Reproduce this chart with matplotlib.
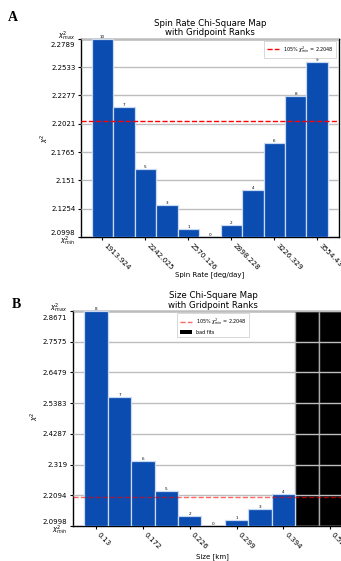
import numpy as np
import matplotlib
matplotlib.use("Agg")
import matplotlib.pyplot as plt
from matplotlib.lines import Line2D
from matplotlib.patches import Patch

# ---------------- data ----------------
spin_chi = [2.2789, 2.2175, 2.1609, 2.1290, 2.1070, 2.0998, 2.1109, 2.1423, 2.1847, 2.2274, 2.2576]
spin_rank = [10, 7, 5, 3, 1, 0, 2, 4, 6, 8, 9]
spin_ticklabels = ['1913.924', '2242.025', '2570.126', '2898.228', '3226.329', '3554.43']
spin_chi_min, spin_chi_max = 2.0998, 2.2789
spin_ylabels = ['2.0998', '2.1254', '2.151', '2.1765', '2.2021', '2.2277', '2.2533', '2.2789']

size_chi = [2.8671, 2.5591, 2.3308, 2.2237, 2.1355, 2.0998, 2.1201, 2.1616, 2.2129]
size_rank = [8, 7, 6, 5, 2, 0, 1, 3, 4]
size_bad = [9, 10]
size_ticklabels = ['0.13', '0.172', '0.226', '0.299', '0.394', '0.52']
size_chi_min, size_chi_max = 2.0998, 2.8671
size_ylabels = ['2.0998', '2.2094', '2.319', '2.4287', '2.5383', '2.6479', '2.7575', '2.8671']

threshold = 2.2048

BLUE = '#0a4cb0'
EDGE = '#c9d9f2'

W, H = 341, 561
fig = plt.figure(figsize=(W / 100, H / 100), dpi=100)


def panel(rect, chis, ranks, tlabels, cmin, cmax, ylabels, title, xlabel, red_alpha,
          xlab_pos, ylab_pos, bad=None, legend_loc='upper right'):
    ax = fig.add_axes(rect)
    n = len(chis) + (len(bad) if bad else 0)
    x = np.arange(len(chis))
    ax.set_axisbelow(False)
    ax.yaxis.grid(True, color='#bdbdbd', linewidth=1.0, zorder=2)
    if bad:
        ax.bar(bad, [cmax - cmin] * len(bad), bottom=cmin, width=1.0, color='black',
               edgecolor='#a8a8a8', linewidth=1.0, zorder=1)
    ax.bar(x, np.array(chis) - cmin, bottom=cmin, width=1.0, color=BLUE,
           edgecolor=EDGE, linewidth=0.9, zorder=3)
    for xi, c, r in zip(x, chis, ranks):
        ax.text(xi, c, str(r), ha='center', va='bottom', fontsize=3, zorder=5, clip_on=False)
    ax.axhline(threshold, color='red', linestyle='--', linewidth=1.0, alpha=red_alpha, zorder=4)
    ax.set_xlim(-1, 11)
    ax.set_ylim(cmin, cmax)
    yt = np.linspace(cmin, cmax, 8)
    labs = list(ylabels)
    labs[0] = labs[0] + '\n$\\chi^2_{min}$'
    labs[-1] = '$\\chi^2_{max}$\n' + labs[-1]
    ax.set_yticks(yt)
    ax.set_yticklabels(labs, fontsize=5, linespacing=0.9)
    ax.set_xticks(np.arange(0, n, 2)[:len(tlabels)])
    ax.set_xticklabels(tlabels, fontsize=5.2, rotation=-45, ha='left')
    ax.tick_params(axis='both', length=2.5, width=0.8, pad=1.5)
    ax.tick_params(axis='x', pad=1.2)
    ax.set_title(title, fontsize=6.2, pad=2.5, linespacing=1.05)
    ax.set_xlabel(xlabel, fontsize=5)
    ax.xaxis.set_label_coords(*xlab_pos)
    ax.xaxis.label.set_va('center')
    ax.set_ylabel('$\\chi^2$', fontsize=5)
    ax.yaxis.set_label_coords(*ylab_pos)
    ax.yaxis.label.set_va('center')
    for s in ax.spines.values():
        s.set_linewidth(1.0)
    handles = [Line2D([0], [0], color='red', linestyle='--', linewidth=1.0, alpha=red_alpha,
                      label='105%% $\\chi^2_{min}$ = %.4f' % threshold)]
    if bad:
        handles.append(Patch(facecolor='black', label='bad fits'))
    leg = ax.legend(handles=handles, loc=legend_loc, fontsize=3.5, frameon=True,
                    handlelength=2.5, borderpad=0.6, fancybox=False)
    leg.get_frame().set_linewidth(0.4)
    leg.get_frame().set_edgecolor('#aaaaaa')
    leg.set_zorder(6)
    return ax


axA = panel([81 / W, 1 - 237 / H, 257.7 / W, 198.3 / H], spin_chi, spin_rank, spin_ticklabels,
            spin_chi_min, spin_chi_max, spin_ylabels,
            'Spin Rate Chi-Square Map\nwith Gridpoint Ranks', 'Spin Rate [deg/day]', 1.0,
            (0.5, -0.19), (-0.14, 0.5))
axB = panel([72.7 / W, 1 - 526 / H, 281 / W, 215 / H], size_chi, size_rank, size_ticklabels,
            size_chi_min, size_chi_max, size_ylabels,
            'Size Chi-Square Map\nwith Gridpoint Ranks', 'Size [km]', 0.6,
            (0.496, -0.143), (-0.134, 0.51), bad=size_bad, legend_loc='upper center')

fig.text(13 / W, 1 - 21 / H, 'A', fontsize=10, fontweight='bold', family='Liberation Serif',
         ha='center', va='baseline')
fig.text(16 / W, 1 - 308 / H, 'B', fontsize=10, fontweight='bold', family='Liberation Serif',
         ha='center', va='baseline')

fig.savefig('out.png', dpi=100)
